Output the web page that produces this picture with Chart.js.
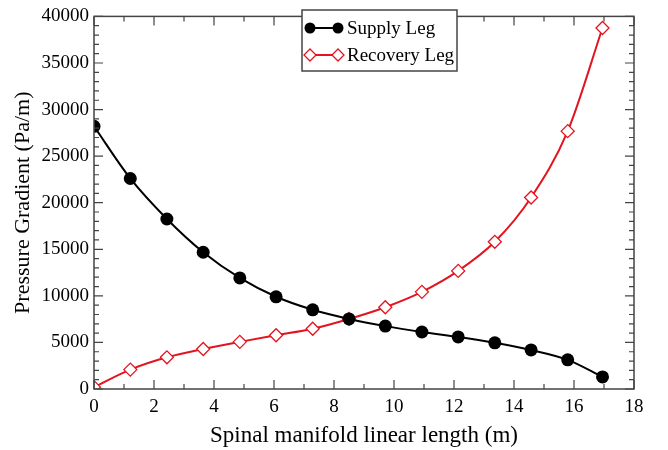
<!DOCTYPE html>
<html>
<head>
<meta charset="utf-8">
<script src="https://cdn.jsdelivr.net/npm/chart.js@4.4.1/dist/chart.umd.min.js"></script>
<style>
  html, body { margin: 0; padding: 0; background: #fff; }
  #wrap { width: 668px; height: 450px; }
</style>
</head>
<body>
<div id="wrap"><canvas id="chart" width="668" height="450"></canvas></div>
<script>
// data
const lengthM = [0, 1.21, 2.43, 3.64, 4.86, 6.07, 7.29, 8.5, 9.71, 10.93, 12.14, 13.36, 14.57, 15.79, 16.95];
const supplyLeg = [28200, 22600, 18250, 14680, 11920, 9900, 8500, 7520, 6750, 6120, 5590, 4960, 4190, 3130, 1300];
const recoveryLeg = [200, 2080, 3400, 4290, 5060, 5770, 6470, 7520, 8780, 10430, 12680, 15800, 20560, 27680, 38750];
const xTicks = [0, 2, 4, 6, 8, 10, 12, 14, 16, 18];
const yTicks = [0, 5000, 10000, 15000, 20000, 25000, 30000, 35000, 40000];

const RED = "#e3141f";
const FRAME = "#444";
const serif = "'Liberation Serif', 'DejaVu Serif', serif";

const toPoints = (ys) => ys.map((y, i) => ({ x: lengthM[i], y: y }));

// frame + inward ticks on all four sides (xmgrace style)
const framePlugin = {
    id: "frame",
    afterDatasetsDraw(chart) {
        const ctx = chart.ctx;
        const a = chart.chartArea;
        const xs = chart.scales.x, ys = chart.scales.y;
        ctx.save();
        ctx.strokeStyle = FRAME;
        ctx.lineWidth = 1.5;
        ctx.strokeRect(a.left, a.top, a.right - a.left, a.bottom - a.top);
        ctx.lineWidth = 1.2;
        ctx.beginPath();
        for (let v = 0; v <= 18; v += 1) {
            const p = xs.getPixelForValue(v);
            const len = v % 2 === 0 ? 9 : 5;
            ctx.moveTo(p, a.bottom); ctx.lineTo(p, a.bottom - len);
            ctx.moveTo(p, a.top); ctx.lineTo(p, a.top + len);
        }
        for (let v = 0; v <= 40000; v += 1000) {
            const p = ys.getPixelForValue(v);
            const len = v % 5000 === 0 ? 9 : 5;
            ctx.moveTo(a.left, p); ctx.lineTo(a.left + len, p);
            ctx.moveTo(a.right, p); ctx.lineTo(a.right - len, p);
        }
        ctx.stroke();
        ctx.restore();
    }
};

// boxed legend like the original, line-marker-line symbols
const legendPlugin = {
    id: "boxLegend",
    afterDraw(chart) {
        const ctx = chart.ctx;
        const bx = 302, by = 10, bw = 155, bh = 61;
        ctx.save();
        ctx.fillStyle = "#fff";
        ctx.fillRect(bx, by, bw, bh);
        ctx.strokeStyle = FRAME;
        ctx.lineWidth = 1.5;
        ctx.strokeRect(bx, by, bw, bh);
        const rows = [
            { y: 28, label: "Supply Leg", color: "#000", ds: 0 },
            { y: 55, label: "Recovery Leg", color: RED, ds: 1 }
        ];
        rows.forEach((r) => {
            ctx.strokeStyle = r.color;
            ctx.lineWidth = 2;
            ctx.beginPath();
            ctx.moveTo(310, r.y); ctx.lineTo(338, r.y);
            ctx.stroke();
            [310, 338].forEach((cx) => {
                ctx.beginPath();
                if (r.ds === 0) {
                    ctx.arc(cx, r.y, 5.5, 0, Math.PI * 2);
                    ctx.fillStyle = "#000";
                    ctx.fill();
                } else {
                    ctx.moveTo(cx, r.y - 6); ctx.lineTo(cx + 6, r.y);
                    ctx.lineTo(cx, r.y + 6); ctx.lineTo(cx - 6, r.y);
                    ctx.closePath();
                    ctx.fillStyle = "#fff";
                    ctx.fill();
                    ctx.lineWidth = 1.3;
                    ctx.stroke();
                }
            });
            ctx.fillStyle = "#000";
            ctx.font = "19px " + serif;
            ctx.textBaseline = "middle";
            ctx.textAlign = "left";
            ctx.fillText(r.label, 347, r.y + 1);
        });
        ctx.restore();
    }
};

const bgPlugin = {
    id: "bg",
    beforeDraw(chart) {
        const ctx = chart.ctx;
        ctx.save();
        ctx.fillStyle = "#fff";
        ctx.fillRect(0, 0, chart.width, chart.height);
        ctx.restore();
    }
};

new Chart(document.getElementById("chart"), {
    type: "line",
    data: {
        datasets: [
            {
                label: "Supply Leg",
                data: toPoints(supplyLeg),
                borderColor: "#000",
                backgroundColor: "#000",
                borderWidth: 2,
                pointStyle: "circle",
                pointRadius: 6.5,
                pointBorderWidth: 0,
                cubicInterpolationMode: "monotone",
                fill: false
            },
            {
                label: "Recovery Leg",
                data: toPoints(recoveryLeg),
                borderColor: RED,
                backgroundColor: "#fff",
                borderWidth: 2,
                pointStyle: "rectRot",
                pointRadius: 6.5,
                pointBorderWidth: 1.3,
                pointBorderColor: RED,
                cubicInterpolationMode: "monotone",
                fill: false
            }
        ]
    },
    options: {
        responsive: false,
        animation: false,
        layout: { padding: { top: 10, right: 34, left: 10, bottom: 0 } },
        plugins: { legend: { display: false }, tooltip: { enabled: false } },
        scales: {
            x: {
                type: "linear",
                min: 0,
                max: 18,
                afterBuildTicks: (s) => { s.ticks = xTicks.map((v) => ({ value: v })); },
                ticks: { color: "#000", font: { family: serif, size: 19 }, padding: 7, maxRotation: 0,
                         callback: (v) => String(v) },
                grid: { display: false, drawTicks: false },
                border: { display: false },
                title: {
                    display: true,
                    text: "Spinal manifold linear length (m)",
                    color: "#000",
                    font: { family: serif, size: 23 },
                    padding: { top: 1, bottom: 0 }
                },
                afterFit: (s) => { s.height = 61; }
            },
            y: {
                min: 0,
                max: 40000,
                afterBuildTicks: (s) => { s.ticks = yTicks.map((v) => ({ value: v })); },
                ticks: { color: "#000", font: { family: serif, size: 19 }, padding: 5,
                         callback: (v) => String(v) },
                grid: { display: false, drawTicks: false },
                border: { display: false },
                title: {
                    display: true,
                    text: "Pressure Gradient (Pa/m)",
                    color: "#000",
                    font: { family: serif, size: 22 },
                    padding: { top: 0, bottom: 4 }
                },
                afterFit: (s) => { s.width = 84; }
            }
        }
    },
    plugins: [bgPlugin, framePlugin, legendPlugin]
});
</script>
</body>
</html>
